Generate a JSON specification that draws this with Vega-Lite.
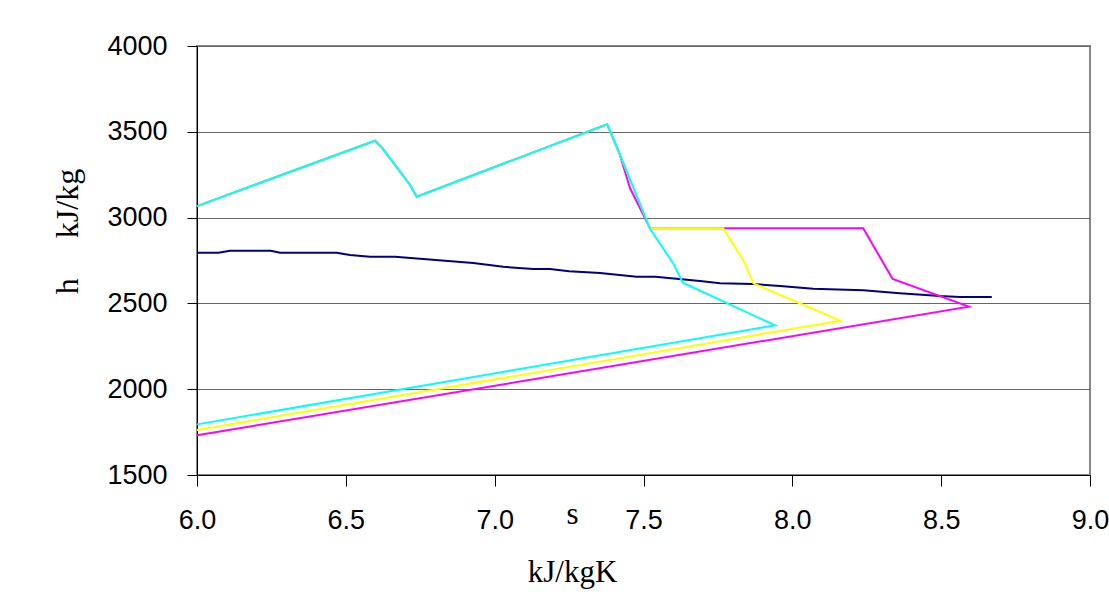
{
  "$schema": "https://vega.github.io/schema/vega-lite/v6.json",
  "width": 893,
  "height": 429,
  "autosize": {"type": "none"},
  "padding": {"left": 197, "top": 46, "right": 19, "bottom": 128},
  "background": "white",
  "config": {"view": {"stroke": "#888888", "strokeWidth": 2}},
  "data": {"values": [
    {"series": "sat", "i": 1, "s": 6.000, "h": 2795},
    {"series": "sat", "i": 2, "s": 6.072, "h": 2795},
    {"series": "sat", "i": 3, "s": 6.111, "h": 2807},
    {"series": "sat", "i": 4, "s": 6.248, "h": 2807},
    {"series": "sat", "i": 5, "s": 6.279, "h": 2795},
    {"series": "sat", "i": 6, "s": 6.469, "h": 2795},
    {"series": "sat", "i": 7, "s": 6.514, "h": 2782},
    {"series": "sat", "i": 8, "s": 6.581, "h": 2772},
    {"series": "sat", "i": 9, "s": 6.665, "h": 2772},
    {"series": "sat", "i": 10, "s": 6.760, "h": 2759},
    {"series": "sat", "i": 11, "s": 6.928, "h": 2735},
    {"series": "sat", "i": 12, "s": 7.029, "h": 2713},
    {"series": "sat", "i": 13, "s": 7.130, "h": 2700},
    {"series": "sat", "i": 14, "s": 7.186, "h": 2700},
    {"series": "sat", "i": 15, "s": 7.250, "h": 2688},
    {"series": "sat", "i": 16, "s": 7.354, "h": 2677},
    {"series": "sat", "i": 17, "s": 7.477, "h": 2655},
    {"series": "sat", "i": 18, "s": 7.540, "h": 2655},
    {"series": "sat", "i": 19, "s": 7.690, "h": 2631},
    {"series": "sat", "i": 20, "s": 7.757, "h": 2618},
    {"series": "sat", "i": 21, "s": 7.869, "h": 2613},
    {"series": "sat", "i": 22, "s": 7.959, "h": 2601},
    {"series": "sat", "i": 23, "s": 8.070, "h": 2585},
    {"series": "sat", "i": 24, "s": 8.238, "h": 2576},
    {"series": "sat", "i": 25, "s": 8.361, "h": 2559},
    {"series": "sat", "i": 26, "s": 8.496, "h": 2543},
    {"series": "sat", "i": 27, "s": 8.563, "h": 2538},
    {"series": "sat", "i": 28, "s": 8.670, "h": 2538},

    {"series": "magenta", "i": 1, "s": 6.000, "h": 3067},
    {"series": "magenta", "i": 2, "s": 6.598, "h": 3448},
    {"series": "magenta", "i": 3, "s": 6.623, "h": 3404},
    {"series": "magenta", "i": 4, "s": 6.716, "h": 3190},
    {"series": "magenta", "i": 5, "s": 6.738, "h": 3122},
    {"series": "magenta", "i": 6, "s": 7.378, "h": 3544},
    {"series": "magenta", "i": 7, "s": 7.419, "h": 3375},
    {"series": "magenta", "i": 8, "s": 7.455, "h": 3171},
    {"series": "magenta", "i": 9, "s": 7.522, "h": 2938},
    {"series": "magenta", "i": 10, "s": 8.238, "h": 2938},
    {"series": "magenta", "i": 11, "s": 8.300, "h": 2753},
    {"series": "magenta", "i": 12, "s": 8.337, "h": 2642},
    {"series": "magenta", "i": 13, "s": 8.593, "h": 2481},
    {"series": "magenta", "i": 14, "s": 6.000, "h": 1731},

    {"series": "yellow", "i": 1, "s": 6.000, "h": 3067},
    {"series": "yellow", "i": 2, "s": 6.598, "h": 3448},
    {"series": "yellow", "i": 3, "s": 6.623, "h": 3404},
    {"series": "yellow", "i": 4, "s": 6.716, "h": 3190},
    {"series": "yellow", "i": 5, "s": 6.738, "h": 3122},
    {"series": "yellow", "i": 6, "s": 7.378, "h": 3544},
    {"series": "yellow", "i": 7, "s": 7.419, "h": 3375},
    {"series": "yellow", "i": 8, "s": 7.522, "h": 2938},
    {"series": "yellow", "i": 9, "s": 7.768, "h": 2938},
    {"series": "yellow", "i": 10, "s": 7.839, "h": 2740},
    {"series": "yellow", "i": 11, "s": 7.869, "h": 2617},
    {"series": "yellow", "i": 12, "s": 8.162, "h": 2399},
    {"series": "yellow", "i": 13, "s": 6.000, "h": 1762},

    {"series": "cyan", "i": 1, "s": 6.000, "h": 3067},
    {"series": "cyan", "i": 2, "s": 6.598, "h": 3448},
    {"series": "cyan", "i": 3, "s": 6.623, "h": 3404},
    {"series": "cyan", "i": 4, "s": 6.716, "h": 3190},
    {"series": "cyan", "i": 5, "s": 6.738, "h": 3122},
    {"series": "cyan", "i": 6, "s": 7.378, "h": 3544},
    {"series": "cyan", "i": 7, "s": 7.419, "h": 3375},
    {"series": "cyan", "i": 8, "s": 7.522, "h": 2935},
    {"series": "cyan", "i": 9, "s": 7.600, "h": 2733},
    {"series": "cyan", "i": 10, "s": 7.632, "h": 2621},
    {"series": "cyan", "i": 11, "s": 7.942, "h": 2372},
    {"series": "cyan", "i": 12, "s": 6.000, "h": 1795}
  ]},
  "encoding": {
    "x": {
      "field": "s", "type": "quantitative",
      "scale": {"domain": [6, 9], "nice": false, "zero": false},
      "axis": {
        "values": [6, 6.5, 7, 7.5, 8, 8.5, 9],
        "format": ".1f",
        "grid": false,
        "domainColor": "#000000",
        "domainWidth": 1,
        "tickColor": "#000000",
        "tickSize": 11,
        "labelPadding": 21,
        "labelFont": "Liberation Sans",
        "labelFontSize": 27,
        "labelColor": "#000000",
        "labelOverlap": false,
        "labelFlush": false,
        "title": ["s", "kJ/kgK"],
        "titleFont": "Liberation Serif",
        "titleFontSize": 31,
        "titleFontWeight": "normal",
        "titleColor": "#000000",
        "titleLineHeight": 58,
        "titleX": 375,
        "titleY": 48,
        "titleAlign": "center",
        "titleBaseline": "alphabetic"
      }
    },
    "y": {
      "field": "h", "type": "quantitative",
      "scale": {"domain": [1500, 4000], "nice": false, "zero": false},
      "axis": {
        "values": [1500, 2000, 2500, 3000, 3500, 4000],
        "format": "d",
        "grid": true,
        "gridColor": "#666666",
        "gridWidth": 1,
        "domainColor": "#000000",
        "domainWidth": 1,
        "tickColor": "#000000",
        "tickSize": 10,
        "labelPadding": 20,
        "labelFont": "Liberation Sans",
        "labelFontSize": 27,
        "labelColor": "#000000",
        "labelOverlap": false,
        "labelFlush": false,
        "title": "h\u00a0\u00a0\u00a0\u00a0\u00a0kJ/kg",
        "titleFont": "Liberation Serif",
        "titleFontSize": 32,
        "titleFontWeight": "normal",
        "titleColor": "#000000",
        "titleAngle": 270,
        "titleX": -120,
        "titleY": 185,
        "titleAlign": "center",
        "titleBaseline": "alphabetic"
      }
    },
    "order": {"field": "i", "type": "quantitative"}
  },
  "layer": [
    {"transform": [{"filter": "datum.series === 'sat'"}], "mark": {"type": "line", "color": "#000080", "strokeWidth": 2}},
    {"transform": [{"filter": "datum.series === 'magenta'"}], "mark": {"type": "line", "color": "#FF00FF", "strokeWidth": 2}},
    {"transform": [{"filter": "datum.series === 'yellow'"}], "mark": {"type": "line", "color": "#FFFF00", "strokeWidth": 2}},
    {"transform": [{"filter": "datum.series === 'cyan'"}], "mark": {"type": "line", "color": "#00FFFF", "strokeWidth": 2}}
  ]
}
